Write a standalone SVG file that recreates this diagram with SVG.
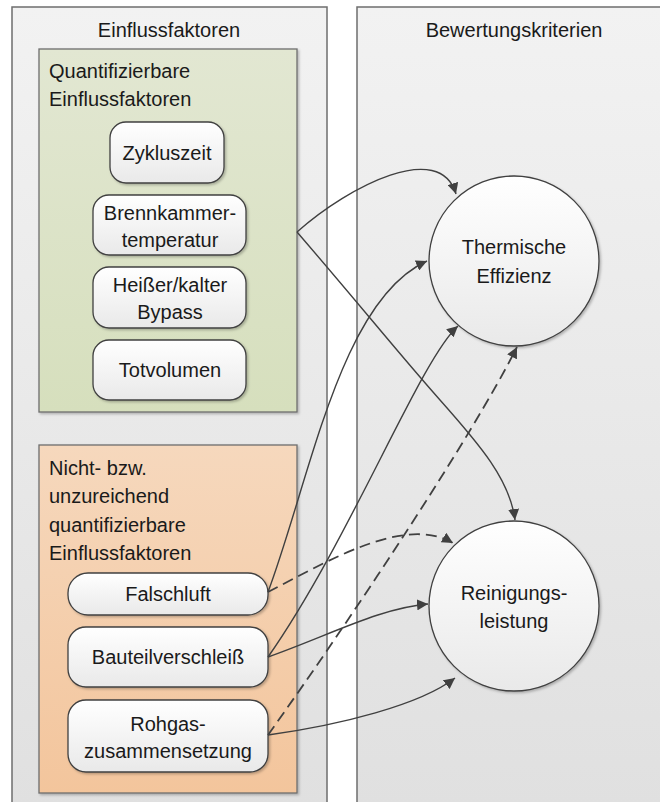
<svg xmlns="http://www.w3.org/2000/svg" width="660" height="802" viewBox="0 0 660 802">
<defs>
<linearGradient id="gPool" x1="0" y1="0" x2="0" y2="1"><stop offset="0" stop-color="#f2f2f2"/><stop offset="1" stop-color="#e0e0e0"/></linearGradient>
<linearGradient id="gGreen" x1="0" y1="0" x2="0" y2="1"><stop offset="0" stop-color="#e2e7d2"/><stop offset="1" stop-color="#d6dfbd"/></linearGradient>
<linearGradient id="gOrange" x1="0" y1="0" x2="0" y2="1"><stop offset="0" stop-color="#f6d8bd"/><stop offset="1" stop-color="#f3c59c"/></linearGradient>
<linearGradient id="gNode" x1="0" y1="0" x2="0" y2="1"><stop offset="0" stop-color="#ffffff"/><stop offset="1" stop-color="#e9e9e9"/></linearGradient>
<marker id="arr" viewBox="0 0 10 10" refX="10" refY="5" markerWidth="11" markerHeight="11" markerUnits="userSpaceOnUse" orient="auto"><path d="M0,0 L10,5 L0,10 z" fill="#404040"/></marker>
<filter id="sh" x="-10%" y="-10%" width="130%" height="130%"><feDropShadow dx="1.5" dy="1.5" stdDeviation="1.2" flood-color="#000" flood-opacity="0.25"/></filter>
</defs>
<style>
text{font-family:"Liberation Sans",Arial,sans-serif;font-size:20px;fill:#1a1a1a}
.pool{fill:url(#gPool);stroke:#6e6e6e;stroke-width:1.5}
.node{fill:url(#gNode);stroke:#404040;stroke-width:1.3;filter:url(#sh)}
.c{text-anchor:middle}
.ln{fill:none;stroke:#404040;stroke-width:1.4;marker-end:url(#arr)}
.ds{fill:none;stroke:#404040;stroke-width:1.8;stroke-dasharray:11 6;marker-end:url(#arr)}
</style>
<rect width="660" height="802" fill="#ffffff"/>
<g id="pool-einfluss">
<rect class="pool" x="12" y="7" width="315" height="800"/>
<text class="c" x="169" y="37">Einflussfaktoren</text>
</g>
<g id="pool-bewertung">
<rect class="pool" x="357" y="7" width="310" height="800"/>
<text class="c" x="514" y="37">Bewertungskriterien</text>
</g>
<g id="group-quant">
<rect x="39" y="49" width="258" height="363" fill="url(#gGreen)" stroke="#6e6e6e" stroke-width="1.3" filter="url(#sh)"/>
<text x="49" y="78">Quantifizierbare</text>
<text x="49" y="106">Einflussfaktoren</text>
</g>
<g id="group-nicht">
<rect x="39" y="445" width="258" height="348" fill="url(#gOrange)" stroke="#6e6e6e" stroke-width="1.3" filter="url(#sh)"/>
<text x="49" y="475">Nicht- bzw.</text>
<text x="49" y="503">unzureichend</text>
<text x="49" y="532">quantifizierbare</text>
<text x="49" y="560">Einflussfaktoren</text>
</g>
<g id="n-zykluszeit"><rect class="node" x="110" y="122" width="114" height="61" rx="16"/><text class="c" x="167" y="160">Zykluszeit</text></g>
<g id="n-brennkammer"><rect class="node" x="93" y="195" width="153" height="60" rx="16"/><text class="c" x="170" y="220">Brennkammer-</text><text class="c" x="170" y="247">temperatur</text></g>
<g id="n-bypass"><rect class="node" x="93" y="267" width="153" height="61" rx="16"/><text class="c" x="170" y="292">Heißer/kalter</text><text class="c" x="170" y="319">Bypass</text></g>
<g id="n-totvolumen"><rect class="node" x="93" y="340" width="153" height="60" rx="16"/><text class="c" x="170" y="377">Totvolumen</text></g>
<g id="n-falschluft"><rect class="node" x="68" y="573" width="200" height="42" rx="20"/><text class="c" x="168" y="601">Falschluft</text></g>
<g id="n-bauteil"><rect class="node" x="68" y="627" width="200" height="60" rx="18"/><text class="c" x="168" y="664">Bauteilverschleiß</text></g>
<g id="n-rohgas"><rect class="node" x="68" y="700" width="200" height="72" rx="18"/><text class="c" x="168" y="731">Rohgas-</text><text class="c" x="168" y="758">zusammensetzung</text></g>
<g id="n-thermisch"><circle class="node" cx="514" cy="261" r="85"/><text class="c" x="514" y="254">Thermische</text><text class="c" x="514" y="283">Effizienz</text></g>
<g id="n-reinigung"><circle class="node" cx="514" cy="606" r="85"/><text class="c" x="514" y="600">Reinigungs-</text><text class="c" x="514" y="628">leistung</text></g>
<g id="connectors">
<path class="ln" d="M297,232 C350,185 440,140 456,194"/>
<path class="ln" d="M297,232 C360,305 400,355 440,400 C480,445 510,480 515,520"/>
<path class="ln" d="M268,592 C310,480 340,300 427,261"/>
<path class="ds" d="M268,592 C330,560 405,515 453,543"/>
<path class="ln" d="M268,657 C350,540 420,360 458,326"/>
<path class="ln" d="M268,657 C330,635 380,608 428,604"/>
<path class="ds" d="M268,735 C350,620 470,440 517,347"/>
<path class="ln" d="M268,735 C340,725 420,705 455,678"/>
</g>
</svg>
